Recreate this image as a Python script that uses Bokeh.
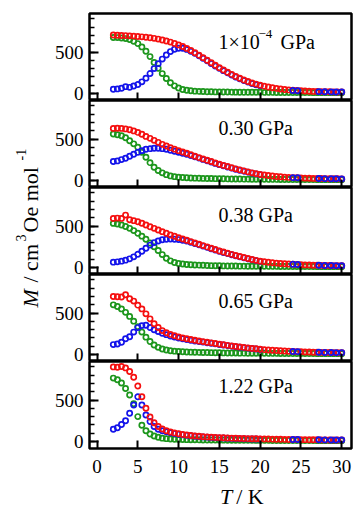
from bokeh.plotting import figure
from bokeh.models import Range1d, FixedTicker, Label, ColumnDataSource
from bokeh.layouts import column, row
from bokeh.embed import file_html
from bokeh.resources import INLINE

# ---------------- data ----------------
# temperature grid of the red and green series (K)
T_RG = [2.0, 2.5, 3.0, 3.5, 4.0, 4.5, 5.0, 5.5, 6.0, 6.5,
        7.0, 7.5, 8.0, 8.5, 9.0, 9.5, 10.0, 10.5, 11.0, 11.5,
        12.0, 12.5, 13.0, 13.5, 14.0, 14.5, 15.0, 15.5, 16.0, 16.5,
        17.0, 17.5, 18.0, 18.5, 19.0, 19.5, 20.0, 20.5, 21.0, 21.5,
        22.0, 22.5, 23.0, 23.5, 24.0, 24.5, 25.0, 25.5, 26.0, 26.5,
        27.0, 27.5, 28.0, 28.5, 29.0, 29.5, 30.0]
# temperatures of the blue series (dense to 20 K, sparse above)
T_B = [2.0, 2.5, 3.0, 3.5, 4.0, 4.5, 5.0, 5.5, 6.0, 6.5,
       7.0, 7.5, 8.0, 8.5, 9.0, 9.5, 10.0, 10.5, 11.0, 11.5,
       12.0, 12.5, 13.0, 13.5, 14.0, 14.5, 15.0, 15.5, 16.0, 16.5,
       17.0, 17.5, 18.0, 18.5, 19.0, 19.5, 20.0,
       24.0, 24.6, 27.2, 27.9, 28.7, 29.3, 30.0]

PRESSURES = ["1×10-4 GPa", "0.30 GPa", "0.38 GPa", "0.65 GPa", "1.22 GPa"]

red_p1 = [705, 703, 700, 698, 695, 692, 688, 683, 678, 672,
          665, 656, 646, 634, 620, 604, 586, 566, 544, 519,
          492, 462, 432, 401, 370, 340, 311, 283, 256, 230,
          206, 184, 163, 144, 127, 113, 100, 88, 78, 69,
          61, 54, 48, 43, 39, 35, 32, 29, 27, 25,
          23, 22, 21, 20, 19, 18, 18]
green_p1 = [676, 674, 670, 662, 650, 630, 602, 562, 510, 445,
            375, 305, 240, 180, 130, 92, 65, 48, 38, 32,
            28, 25, 23, 21, 20, 19, 18, 17, 17, 16,
            16, 15, 15, 15, 14, 14, 14, 13, 13, 13,
            12, 12, 12, 12, 11, 11, 11, 11, 11, 10,
            10, 10, 10, 10, 10, 10, 10]
blue_p1 = [50, 55, 62, 82, 74, 90, 108, 140, 185, 240,
           300, 360, 415, 465, 505, 533, 546, 545, 532, 510,
           484, 455, 425, 394, 362, 332, 303, 275, 248, 222,
           198, 176, 155, 137, 120, 106, 94,
           36, 33, 22, 20, 19, 18, 17]

red_p2 = [628, 630, 628, 622, 612, 598, 580, 557, 532, 508,
          484, 460, 436, 415, 396, 378, 360, 344, 328, 310,
          292, 276, 260, 244, 228, 212, 196, 182, 168, 154,
          140, 128, 116, 104, 92, 82, 72, 66, 60, 54,
          48, 44, 40, 37, 34, 32, 30, 28, 26, 25,
          24, 23, 22, 21, 20, 20, 19]
green_p2 = [560, 552, 540, 515, 480, 442, 400, 340, 280, 215,
            160, 120, 92, 70, 55, 46, 40, 36, 33, 30,
            28, 26, 25, 24, 23, 22, 21, 20, 19, 18,
            18, 17, 16, 16, 15, 15, 14, 14, 13, 13,
            13, 12, 12, 12, 12, 11, 11, 11, 11, 11,
            10, 10, 10, 10, 10, 10, 10]
blue_p2 = [228, 236, 252, 268, 292, 316, 340, 360, 376, 384,
           388, 388, 384, 376, 364, 352, 340, 328, 316, 302,
           286, 270, 254, 238, 222, 206, 191, 177, 163, 149,
           136, 124, 112, 100, 89, 79, 70,
           34, 32, 24, 22, 21, 20, 19]

red_p3 = [592, 596, 592, 632, 576, 565, 552, 533, 512, 492,
          472, 452, 432, 412, 392, 376, 360, 344, 328, 312,
          296, 280, 264, 248, 232, 216, 200, 186, 172, 158,
          144, 132, 120, 108, 96, 86, 76, 69, 62, 57,
          52, 48, 44, 41, 38, 35, 33, 31, 29, 27,
          26, 25, 24, 23, 22, 21, 20]
green_p3 = [532, 524, 512, 495, 472, 445, 412, 378, 340, 295,
            250, 204, 155, 112, 80, 60, 48, 41, 36, 33,
            30, 28, 26, 24, 22, 21, 20, 19, 18, 18,
            17, 16, 16, 15, 15, 14, 14, 14, 13, 13,
            13, 12, 12, 12, 12, 11, 11, 11, 11, 11,
            10, 10, 10, 10, 10, 10, 10]
blue_p3 = [64, 68, 76, 88, 104, 128, 160, 196, 232, 270,
           300, 320, 334, 340, 342, 340, 336, 328, 318, 305,
           290, 274, 258, 242, 226, 210, 195, 181, 167, 153,
           140, 128, 116, 104, 93, 83, 74,
           38, 35, 26, 24, 23, 22, 20]

red_p4 = [700, 697, 693, 720, 672, 644, 595, 550, 490, 430,
          372, 325, 288, 262, 242, 226, 212, 200, 190, 180,
          171, 163, 155, 147, 140, 132, 125, 117, 110, 103,
          97, 91, 85, 79, 73, 68, 62, 58, 54, 50,
          47, 44, 41, 38, 36, 34, 32, 30, 29, 27,
          26, 25, 24, 23, 22, 21, 20]
green_p4 = [599, 578, 550, 508, 459, 402, 336, 270, 209, 156,
            115, 86, 66, 53, 45, 40, 36, 33, 30, 28,
            26, 25, 24, 23, 22, 21, 20, 19, 18, 17,
            17, 16, 16, 15, 15, 14, 14, 14, 13, 13,
            13, 12, 12, 12, 12, 11, 11, 11, 11, 11,
            10, 10, 10, 10, 10, 10, 10]
blue_p4 = [119, 127, 148, 190, 213, 270, 324, 348, 352, 325,
           298, 276, 256, 239, 223, 210, 199, 189, 180, 171,
           163, 156, 149, 142, 135, 128, 121, 114, 107, 100,
           94, 88, 82, 76, 71, 66, 60,
           36, 34, 26, 24, 23, 22, 20]

red_p5 = [900, 895, 905, 888, 845, 775, 670, 540, 400, 295,
          225, 180, 150, 130, 115, 103, 93, 85, 78, 72,
          67, 62, 58, 55, 52, 49, 46, 44, 42, 40,
          38, 37, 35, 34, 33, 32, 31, 30, 29, 28,
          27, 26, 25, 24, 24, 23, 22, 22, 21, 20,
          20, 19, 19, 18, 18, 17, 17]
green_p5 = [765, 745, 705, 640, 560, 455, 300, 195, 130, 90,
            65, 50, 40, 34, 30, 27, 25, 23, 22, 21,
            20, 19, 18, 18, 17, 17, 16, 16, 15, 15,
            15, 14, 14, 14, 14, 13, 13, 13, 13, 12,
            12, 12, 12, 12, 11, 11, 11, 11, 11, 11,
            10, 10, 10, 10, 10, 10, 10]
blue_p5 = [148, 165, 205, 250, 340, 440, 540, 440, 320, 240,
           180, 148, 130, 116, 105, 95, 87, 80, 74, 68,
           63, 59, 55, 52, 49, 46, 43, 41, 39, 37,
           35, 34, 32, 31, 30, 29, 28,
           24, 23, 20, 19, 18, 17, 17]

RED_SERIES = [red_p1, red_p2, red_p3, red_p4, red_p5]
GREEN_SERIES = [green_p1, green_p2, green_p3, green_p4, green_p5]
BLUE_SERIES = [blue_p1, blue_p2, blue_p3, blue_p4, blue_p5]

X_TICKS = [0, 5, 10, 15, 20, 25, 30]
Y_TICKS = [0, 500]
Y_MINOR = [0, 100, 200, 300, 400, 500, 600, 700, 800, 900]

# ---------------- style / layout ----------------
FONT = "Liberation Serif"
RED, GREEN, BLUE = "#f50f0f", "#1c961c", "#1414ea"
X_RANGE = (-0.92, 31.2)
Y_RANGE = (-85, 965)
LABEL_X = 14.9
LABEL_Y = [616, 635, 635, 647, 667]     # vertical middle of the pressure labels
FRAME_W, FRAME_H = 262, 87
P5_BOTTOM = 36
BF_H = 506 - 13 - 5 * FRAME_H - P5_BOTTOM


def style_common(p):
    p.xgrid.visible = False
    p.ygrid.visible = False
    p.outline_line_color = "black"
    p.outline_line_width = 2.5
    p.outline_line_alpha = 1.0
    p.background_fill_color = "white"
    p.border_fill_color = "white"


def make_panel(i, last):
    p = figure(frame_width=FRAME_W, frame_height=FRAME_H,
               x_range=Range1d(*X_RANGE), y_range=Range1d(*Y_RANGE),
               toolbar_location=None, output_backend="svg", title=None,
               min_border_left=44, min_border_right=3,
               min_border_top=13 if i == 0 else 0,
               min_border_bottom=P5_BOTTOM if last else 0)
    style_common(p)

    ya = p.yaxis[0]
    ya.ticker = FixedTicker(ticks=Y_TICKS, minor_ticks=Y_MINOR)
    ya.axis_line_color = None
    ya.major_tick_in = 9
    ya.major_tick_out = 0
    ya.minor_tick_in = 5
    ya.minor_tick_out = 0
    ya.major_tick_line_width = 2
    ya.minor_tick_line_width = 1.5
    ya.major_tick_line_color = "black"
    ya.minor_tick_line_color = "black"
    ya.major_label_text_font = FONT
    ya.major_label_text_font_size = "19px"
    ya.major_label_text_color = "black"
    ya.major_label_standoff = 6

    xa = p.xaxis[0]
    xa.axis_line_color = None
    if last:
        xa.ticker = FixedTicker(ticks=X_TICKS, minor_ticks=[])
        xa.major_tick_in = 8
        xa.major_tick_out = 0
        xa.major_tick_line_width = 2
        xa.major_tick_line_color = "black"
        xa.major_label_text_font = FONT
        xa.major_label_text_font_size = "19px"
        xa.major_label_text_color = "black"
        xa.major_label_standoff = 11
    else:
        xa.ticker = FixedTicker(ticks=[], minor_ticks=X_TICKS)
        xa.minor_tick_in = 8
        xa.minor_tick_out = 0
        xa.minor_tick_line_width = 2
        xa.minor_tick_line_color = "black"
        xa.major_tick_in = 0
        xa.major_tick_out = 0
        xa.major_label_standoff = 0

    red, green, blue = RED_SERIES[i], GREEN_SERIES[i], BLUE_SERIES[i]
    src_r = ColumnDataSource(dict(t=T_RG, m=red))
    src_g = ColumnDataSource(dict(t=T_RG, m=green))
    lo = [k for k, t in enumerate(T_B) if t <= 21]
    hi = [k for k, t in enumerate(T_B) if t > 21]
    src_b_lo = ColumnDataSource(dict(t=[T_B[k] for k in lo], m=[blue[k] for k in lo]))
    src_b_hi = ColumnDataSource(dict(t=[T_B[k] for k in hi], m=[blue[k] for k in hi]))

    kw = dict(x="t", y="m", marker="circle", size=5.2, fill_color=None, line_width=1.7)
    p.scatter(source=src_g, line_color=GREEN, **kw)
    p.scatter(source=src_b_lo, line_color=BLUE, **kw)
    p.scatter(source=src_r, line_color=RED, **kw)
    p.scatter(source=src_b_hi, line_color=BLUE, **kw)

    if i == 0:
        parts = [("1×10", 0, 0, "20px"), ("−4", 40, 8, "13px"), ("GPa", 62, 0, "20px")]
    else:
        parts = [(PRESSURES[i], 0, 0, "20px")]
    for txt, dx, dy, fs in parts:
        p.add_layout(Label(x=LABEL_X, y=LABEL_Y[i], x_offset=dx, y_offset=dy, text=txt,
                           text_font=FONT, text_font_size=fs, text_color="black",
                           text_baseline="middle", text_align="left"))
    return p


panels = [make_panel(i, i == 4) for i in range(5)]

# left strip with the rotated y-axis title
lf = figure(width=45, height=506, x_range=Range1d(0, 45), y_range=Range1d(0, 506),
            x_axis_type=None, y_axis_type=None, toolbar_location=None,
            output_backend="svg", title=None, min_border=0)
lf.outline_line_color = None
lf.background_fill_color = "white"
lf.border_fill_color = "white"
for txt, xm, yb, fs, st in [("M", 29.5, 199, "22px", "italic"),
                            ("/ cm", 29.5, 224, "22px", "normal"),
                            ("3", 20, 265, "14px", "normal"),
                            ("Oe mol", 29.5, 274, "22px", "normal"),
                            ("-1", 20, 346, "14px", "normal")]:
    lf.add_layout(Label(x=xm, y=yb, text=txt, angle=90, angle_units="deg",
                        text_font=FONT, text_font_size=fs, text_font_style=st,
                        text_color="black", text_baseline="middle", text_align="left"))

# bottom strip with the x-axis title
bf = figure(width=309, height=BF_H, x_range=Range1d(0, 309), y_range=Range1d(0, BF_H),
            x_axis_type=None, y_axis_type=None, toolbar_location=None,
            output_backend="svg", title=None, min_border=0)
bf.outline_line_color = None
bf.background_fill_color = "white"
bf.border_fill_color = "white"
for txt, xb, st in [("T", 154, "italic"), ("/ K", 173, "normal")]:
    bf.add_layout(Label(x=xb, y=10.5, text=txt, text_font=FONT, text_font_size="22px",
                        text_font_style=st, text_color="black",
                        text_baseline="middle", text_align="left"))

layout = row(lf, column(*panels, bf))
open("out.html", "w").write(file_html(layout, INLINE))
